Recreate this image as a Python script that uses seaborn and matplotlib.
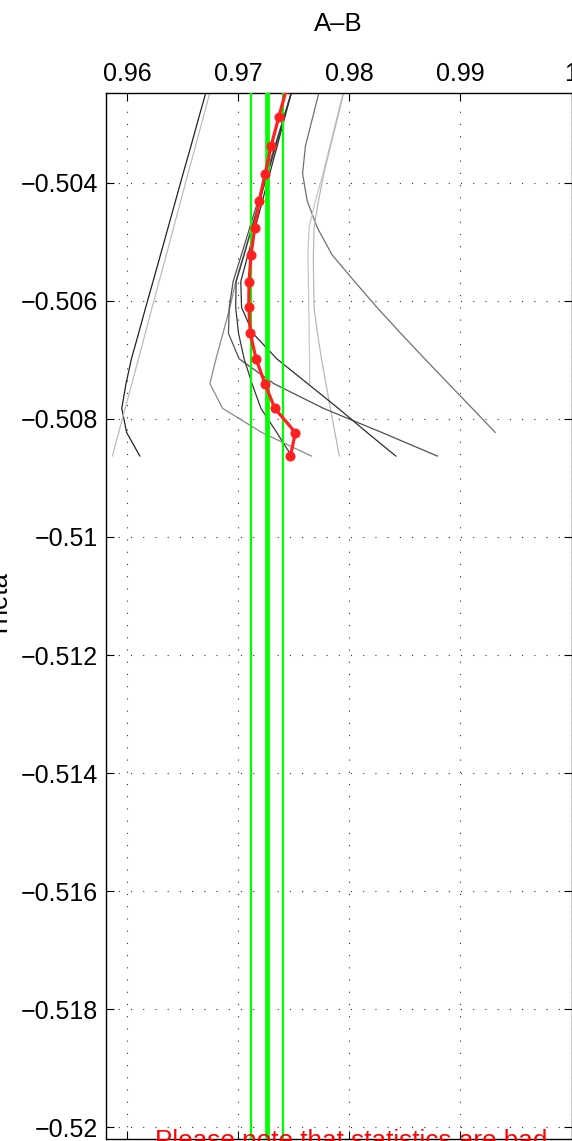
import matplotlib
matplotlib.use("Agg")
import matplotlib.pyplot as plt
import seaborn as sns
import numpy as np
import pandas as pd

sns.set_style("ticks")
plt.rcParams['font.family'] = ['Liberation Sans', 'DejaVu Sans']
plt.rcParams['axes.unicode_minus'] = True
plt.rcParams['text.color'] = 'black'
plt.rcParams['xtick.color'] = 'black'
plt.rcParams['ytick.color'] = 'black'
plt.rcParams['axes.edgecolor'] = 'black'

# theta grid shared by all runs (top point lies just above the axes)
theta = [-0.50239, -0.50288, -0.50337, -0.50384, -0.50430, -0.50476, -0.50522, -0.50567,
         -0.50611, -0.50655, -0.50698, -0.50740, -0.50782, -0.50823, -0.50863]

# mean A-B (red)
mean_ab = [0.97438, 0.97366, 0.97297, 0.97244, 0.97190, 0.97149, 0.97116, 0.97098,
           0.97096, 0.97110, 0.97161, 0.97241, 0.97330, 0.97515, 0.97471]

# single runs (gray)
run_a = [0.96721, 0.96648, 0.96576, 0.96505, 0.96437, 0.96369, 0.96301, 0.96234,
         0.96168, 0.96104, 0.96040, 0.95991, 0.95953, 0.95997, 0.96116]
run_b = [0.96756, 0.96687, 0.96617, 0.96549, 0.96484, 0.96419, 0.96354, 0.96289,
         0.96226, 0.96164, 0.96103, 0.96044, 0.95983, 0.95925, 0.95868]
run_c = [0.97738, 0.97672, 0.97606, 0.97580, 0.97621, 0.97713, 0.97846, 0.98048,
         0.98250, 0.98464, 0.98679, 0.98893, 0.99107, 0.99315, np.nan]
run_d = [0.97955, 0.97891, 0.97826, 0.97764, 0.97696, 0.97638, 0.97629, 0.97632,
         0.97636, 0.97639, 0.97643, 0.97643, np.nan, np.nan, np.nan]
run_e = [0.97960, 0.97897, 0.97832, 0.97772, 0.97723, 0.97683, 0.97677, 0.97679,
         0.97683, 0.97714, 0.97750, 0.97790, 0.97830, 0.97871, 0.97911]
run_f = [0.97491, 0.97415, 0.97338, 0.97264, 0.97192, 0.97121, 0.97049, 0.96979,
         0.96926, 0.96863, 0.96801, 0.96746, 0.96860, 0.97214, 0.97661]
run_g = [0.97491, 0.97412, 0.97331, 0.97254, 0.97179, 0.97104, 0.97029, 0.96955,
         0.96920, 0.96913, 0.97009, 0.97321, 0.97768, 0.98295, 0.98795]
run_h = [0.97491, 0.97421, 0.97352, 0.97284, 0.97219, 0.97154, 0.97088, 0.97024,
         0.97031, 0.97134, 0.97348, 0.97625, 0.97902, 0.98161, 0.98420]
run_i = [0.97491, 0.97415, 0.97339, 0.97266, 0.97194, 0.97123, 0.97054, 0.96982,
         0.96978, 0.97004, 0.97054, 0.97125, 0.97205, 0.97348, 0.97482]

runs = {'a': run_a, 'b': run_b, 'c': run_c, 'd': run_d, 'e': run_e,
        'f': run_f, 'g': run_g, 'h': run_h, 'i': run_i}
run_colors = {'a': '#222222', 'b': '#bdbdbd', 'c': '#707070', 'd': '#c8c8c8', 'e': '#b8b8b8',
              'f': '#8a8a8a', 'g': '#505050', 'h': '#2e2e2e', 'i': '#383838'}

# mean and interval (green)
mean_line = 0.97259
ci_lines = [0.97116, 0.97402]

xticks = [0.96, 0.97, 0.98, 0.99, 1.0]
xtick_labels = ['0.96', '0.97', '0.98', '0.99', '1']
yticks = [-0.504, -0.506, -0.508, -0.51, -0.512, -0.514, -0.516, -0.518, -0.52]
ytick_labels = ['\u22120.504', '\u22120.506', '\u22120.508', '\u22120.51', '\u22120.512',
                '\u22120.514', '\u22120.516', '\u22120.518', '\u22120.52']

W, H = 572, 1141
fig = plt.figure(figsize=(W / 100, H / 100), dpi=100)
ax = fig.add_axes([106 / W, 2 / H, 465.5 / W, 1046 / H])

for key, vals in runs.items():
    d = pd.DataFrame({'ab': vals, 'theta': theta}).dropna()
    sns.lineplot(data=d, x='ab', y='theta', sort=False, estimator=None,
                 color=run_colors[key], lw=0.9, ax=ax, zorder=2)

for xv in ci_lines:
    ax.axvline(xv, color='#00ff00', lw=1.6, zorder=3)
ax.axvline(mean_line, color='#00ff00', lw=3.4, zorder=3)

sns.lineplot(x=mean_ab, y=theta, sort=False, estimator=None, color='#ff2020', lw=2.3,
             marker='o', markersize=6.5, markeredgecolor='#ff2020', ax=ax, zorder=4)

ax.set_xlim(0.95811, 1.0)
ax.set_ylim(-0.520203, -0.502475)
ax.set_xticks(xticks)
ax.set_xticklabels(xtick_labels)
ax.set_yticks(yticks)
ax.set_yticklabels(ytick_labels)
ax.set_xlabel('')
ax.set_ylabel('')

ax.tick_params(axis='x', which='both', top=True, bottom=True, labeltop=True, labelbottom=False,
               direction='in', length=6, width=0.8, pad=5, labelsize=18)
ax.tick_params(axis='y', left=True, right=True, direction='in', length=6, width=0.8,
               pad=6, labelsize=18)
for sp in ax.spines.values():
    sp.set_linewidth(1.0)
    sp.set_color('black')
ax.grid(True, linestyle=(0, (1, 10)), color='#333333', linewidth=0.8)

fig.text(338 / W, 1 - 24 / H, 'A\u2013B', ha='center', va='center', fontsize=18.5)
fig.text(0.0, 1 - 605 / H, 'Theta', rotation=90, ha='center', va='center', fontsize=18.5)
fig.text(155 / W, 1 - 1129 / H, 'Please note that statistics are bad', color='red',
         ha='left', va='top', fontsize=18.8)

fig.savefig('out.png', dpi=100)
